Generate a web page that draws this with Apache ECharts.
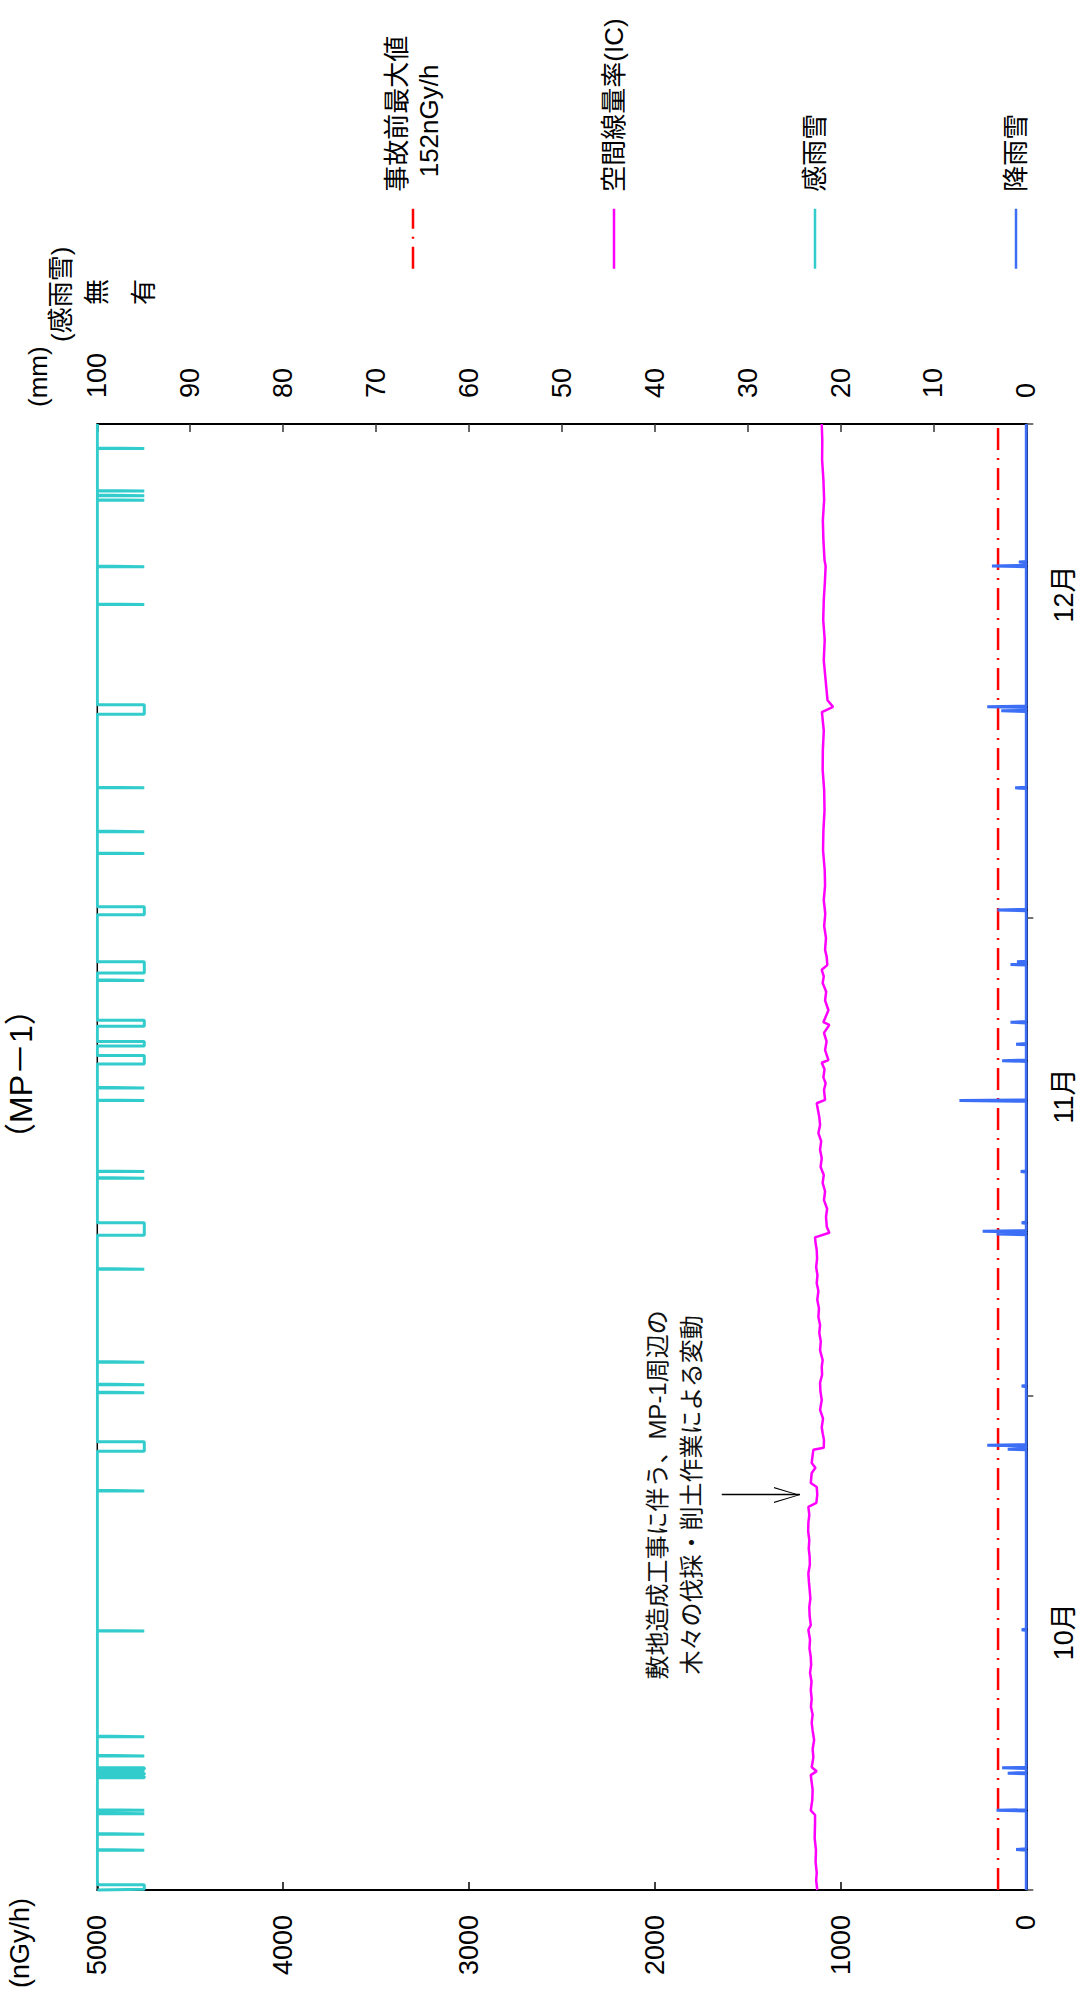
<!DOCTYPE html>
<html>
<head>
<meta charset="utf-8">
<script src="https://cdn.jsdelivr.net/npm/echarts@6/dist/echarts.min.js"></script>
<style>
html,body{margin:0;padding:0;width:1081px;height:2000px;overflow:hidden;background:#fff;}
#wrap{position:absolute;left:0;top:0;width:2000px;height:1081px;transform-origin:0 0;transform:translate(0px,2000px) rotate(-90deg);}
#chart{width:2000px;height:1081px;}
</style>
</head>
<body>
<div id="wrap"><div id="chart"></div></div>
<script>
// ---------- data ----------
const chartTitle = '（MP－1）';
const seriesNames = ['事故前最大値152nGy/h', '空間線量率(IC)', '感雨雪', '降雨雪'];
const legendLabels = ['事故前最大値\n  152nGy/h', '空間線量率(IC)', '感雨雪', '降雨雪'];
const monthStarts = ['10/01 00', '11/01 00', '12/01 00', '01/01 00'];
const monthLabels = ['10月', '11月', '12月'];
const monthLabelAt = ['10/17 05', '11/19 20', '12/21 08'];
const wetLabels = ['無', '有'];
const annotationLines = ['敷地造成工事に伴う、MP-1周辺の', '木々の伐採・削土作業による変動'];
const arrowTime = '10/25 19';
const arrowFrom = 1639;
const arrowTo = 1218;
const preAccidentMax = 152;

// 空間線量率 (nGy/h)
const doseRate = [
  ['10/01 00',1125],['10/01 14',1131],['10/02 02',1128],['10/02 18',1134],['10/03 12',1132],
  ['10/04 06',1139],['10/05 05',1137],['10/05 17',1137],['10/06 00',1160],['10/06 15',1152],
  ['10/07 07',1150],['10/08 05',1160],['10/08 11',1128],['10/08 17',1155],['10/09 08',1146],
  ['10/09 20',1150],['10/10 10',1142],['10/11 00',1150],['10/11 12',1155],['10/12 00',1150],
  ['10/12 12',1159],['10/13 00',1155],['10/13 13',1160],['10/14 02',1156],['10/14 15',1164],
  ['10/15 03',1158],['10/15 15',1160],['10/16 04',1167],['10/16 17',1164],['10/17 08',1173],
  ['10/17 15',1160],['10/18 05',1166],['10/18 18',1168],['10/19 07',1162],['10/19 20',1166],
  ['10/20 08',1170],['10/20 21',1173],['10/21 10',1165],['10/21 22',1166],['10/22 10',1171],
  ['10/22 23',1168],['10/23 12',1174],['10/24 01',1173],['10/24 13',1168],['10/25 01',1173],
  ['10/25 07',1130],['10/25 20',1125],['10/26 07',1128],['10/26 13',1160],['10/27 04',1155],
  ['10/27 12',1135],['10/27 19',1155],['10/28 07',1150],['10/28 15',1146],['10/28 18',1090],
  ['10/29 06',1089],['10/29 16',1096],['10/30 01',1101],['10/30 14',1094],['10/31 03',1110],
  ['10/31 18',1101],['11/01 07',1108],['11/01 20',1110],['11/02 08',1099],['11/02 20',1101],
  ['11/03 06',1096],['11/03 21',1110],['11/04 10',1106],['11/04 23',1114],['11/05 11',1110],
  ['11/05 23',1119],['11/06 12',1116],['11/07 01',1125],['11/07 14',1119],['11/08 02',1128],
  ['11/08 14',1124],['11/09 02',1131],['11/09 15',1126],['11/10 04',1128],['11/10 14',1134],
  ['11/10 23',1137],['11/11 06',1060],['11/11 15',1074],['11/12 06',1078],['11/12 18',1072],
  ['11/13 07',1089],['11/13 20',1083],['11/14 09',1096],['11/14 21',1090],['11/15 09',1107],
  ['11/15 22',1101],['11/16 11',1110],['11/17 00',1104],['11/17 12',1119],['11/18 00',1110],
  ['11/18 12',1114],['11/19 09',1128],['11/19 14',1083],['11/20 05',1089],['11/20 15',1080],
  ['11/21 00',1092],['11/21 12',1086],['11/21 22',1101],['11/22 02',1065],['11/22 17',1083],
  ['11/23 06',1075],['11/23 19',1089],['11/24 07',1060],['11/24 11',1092],['11/25 05',1065],
  ['11/25 20',1083],['11/26 09',1077],['11/26 22',1096],['11/27 08',1090],['11/27 18',1101],
  ['11/28 01',1071],['11/28 13',1074],['11/29 00',1083],['11/29 18',1078],['11/30 12',1088],
  ['12/01 06',1082],['12/02 03',1090],['12/03 01',1083],['12/04 00',1085],['12/05 06',1094],
  ['12/06 12',1092],['12/07 18',1086],['12/09 01',1088],['12/10 07',1096],['12/11 13',1095],
  ['12/12 18',1090],['12/13 22',1100],['12/14 06',1040],['12/14 16',1070],['12/15 22',1080],
  ['12/17 04',1090],['12/18 11',1085],['12/19 17',1093],['12/20 23',1090],['12/22 02',1084],
  ['12/23 02',1080],['12/23 11',1086],['12/24 17',1092],['12/25 23',1095],['12/27 06',1088],
  ['12/28 12',1092],['12/29 18',1099],['12/31 00',1098],['01/01 00',1101]
];

// 降雨雪 (mm/h) – hours with precipitation
const rainEvents = [
  ['10/03 13',1.1],['10/06 00',3.2],['10/08 08',2.0],['10/08 16',2.6],['10/17 08',0.5],
  ['10/28 16',2.0],['10/28 22',4.2],['11/01 15',0.5],['11/11 04',3.2],['11/11 08',4.7],
  ['11/11 21',0.5],['11/15 02',0.6],['11/19 13',7.2],['11/22 01',2.6],['11/23 02',1.1],
  ['11/24 11',1.7],['11/28 02',1.7],['11/28 06',1.0],['12/01 12',3.1],['12/09 04',1.2],
  ['12/14 00',2.7],['12/14 06',4.2],['12/23 02',3.7],['12/23 08',0.8]
];

// 感雨雪 (有) periods: [start, end]
const wetPeriods = [
  ['10/01 01','10/01 08'],['10/03 12','10/03 13'],['10/04 12','10/04 13'],['10/05 19','10/05 20'],
  ['10/06 00','10/06 01'],['10/08 01','10/08 03'],['10/08 06','10/08 08'],['10/08 11','10/08 12'],
  ['10/08 14','10/08 16'],['10/09 10','10/09 11'],['10/10 15','10/10 16'],['10/17 06','10/17 07'],
  ['10/26 01','10/26 02'],['10/28 13','10/29 03'],['11/01 05','11/01 06'],['11/01 17','11/01 18'],
  ['11/03 03','11/03 04'],['11/08 23','11/09 00'],['11/11 02','11/11 21'],['11/14 16','11/14 17'],
  ['11/15 02','11/15 03'],['11/19 13','11/19 14'],['11/20 08','11/20 09'],['11/21 20','11/22 09'],
  ['11/22 23','11/23 06'],['11/24 05','11/24 14'],['11/27 02','11/27 03'],['11/27 13','11/28 06'],
  ['12/01 05','12/01 17'],['12/05 01','12/05 02'],['12/06 10','12/06 11'],['12/09 04','12/09 05'],
  ['12/13 19','12/14 09'],['12/20 16','12/20 17'],['12/23 01','12/23 02'],['12/27 05','12/27 06'],
  ['12/27 12','12/27 13'],['12/27 19','12/27 20'],['12/30 11','12/30 12']
];

// ---------- helpers ----------
const FONT = "'Liberation Sans','Noto Sans CJK JP',sans-serif";
const HOUR = 3600 * 1000;
function T(s) {
  const parts = s.split(' ');
  const md = parts[0].split('/').map(Number);
  return Date.UTC(md[0] >= 10 ? 2013 : 2014, md[0] - 1, md[1], Number(parts[1]));
}
const tMin = T(monthStarts[0]);
const tMax = T(monthStarts[monthStarts.length - 1]);
const labelTimes = monthLabelAt.map(T);

// rain: hourly spikes with zero neighbours
const rainMap = new Map();
rainEvents.forEach(([s, v]) => rainMap.set(T(s), v));
const rainPts = new Map();
rainPts.set(tMin, 0); rainPts.set(tMax, 0);
rainMap.forEach((v, t) => {
  rainPts.set(t, v);
  if (!rainMap.has(t - HOUR)) rainPts.set(t - HOUR, 0);
  if (!rainMap.has(t + HOUR)) rainPts.set(t + HOUR, 0);
});
const rainData = Array.from(rainPts.entries()).sort((a, b) => a[0] - b[0]);

// wet sensor: 0/1 step
const wetData = [[tMin, 0]];
wetPeriods.forEach(([a, b]) => {
  const ta = T(a), tb = T(b);
  wetData.push([ta, 0], [ta, 1], [tb, 1], [tb, 0]);
});
wetData.push([tMax, 0]);

const arrowHead = 'path://M10,0 L20,26 L18.4,26 L10,2.8 L1.6,26 L0,26 Z M10,-26 L10.01,-26 L10,-25.99 Z';
const plain = v => String(v);

// legend vertical centres (item rows)
const legendRows = [413, 614, 815, 1016];

const chart = echarts.init(document.getElementById('chart'), null, { renderer: 'svg' });
chart.setOption({
  animation: false,
  backgroundColor: '#fff',
  title: {
    text: chartTitle, left: 845, top: 5, padding: 0,
    textStyle: { fontSize: 32, fontWeight: 'normal', color: '#000', fontFamily: FONT }
  },
  legend: seriesNames.map((n, i) => ({
    data: [n], left: 1730, top: i === 0 ? legendRows[i] - 48 : legendRows[i] - 16,
    orient: 'vertical', padding: 0, itemWidth: 60, itemHeight: 20, selectedMode: false,
    formatter: () => legendLabels[i],
    itemStyle: { opacity: 0 },
    lineStyle: { width: 2.5 },
    textStyle: {
      fontSize: 26, lineHeight: 32, color: '#000', fontFamily: FONT,
      padding: i === 0 ? [32, 0, 0, 12] : [0, 0, 0, 12]
    }
  })),
  grid: {
    left: 110, right: 424, top: 97.3, bottom: 54.7,
    show: true, borderColor: '#000', borderWidth: 1.5, backgroundColor: 'transparent'
  },
  xAxis: {
    type: 'value', min: tMin, max: tMax,
    axisLine: { show: true, onZero: false, lineStyle: { color: '#000', width: 2 } },
    axisTick: { show: true, inside: false, length: 7, customValues: monthStarts.map(T), lineStyle: { color: '#444', width: 1.5 } },
    axisLabel: {
      show: true, customValues: labelTimes, margin: 24, fontSize: 27, color: '#000', fontFamily: FONT,
      hideOverlap: false,
      formatter: function (v) {
        const i = labelTimes.findIndex(t => Math.abs(t - v) < 60000);
        return i >= 0 ? monthLabels[i] : '';
      }
    },
    splitLine: { show: false }
  },
  yAxis: [
    {
      type: 'value', position: 'left', min: 0, max: 5000, interval: 1000,
      name: '(nGy/h)', nameLocation: 'end', nameGap: 77,
      nameTextStyle: { fontSize: 27, color: '#000', align: 'right', verticalAlign: 'middle', padding: [0, 8, 0, 0], fontFamily: FONT },
      axisLine: { show: true, lineStyle: { color: '#000', width: 2 } },
      axisTick: { show: true, inside: true, length: 8, lineStyle: { color: '#000', width: 1.5 } },
      axisLabel: { fontSize: 27, color: '#000', margin: 25, fontFamily: FONT, formatter: plain },
      splitLine: { show: false }
    },
    {
      type: 'value', position: 'right', min: 0, max: 100, interval: 10,
      name: '(mm)', nameLocation: 'end', nameGap: 59,
      nameTextStyle: { fontSize: 26, color: '#000', align: 'left', verticalAlign: 'middle', padding: [0, 0, 0, 17], fontFamily: FONT },
      axisLine: { show: true, lineStyle: { color: '#000', width: 2 } },
      axisTick: { show: true, inside: true, length: 8, lineStyle: { color: '#333', width: 1.5 } },
      axisLabel: { fontSize: 27, color: '#000', margin: 26, fontFamily: FONT, formatter: plain },
      splitLine: { show: false }
    },
    {
      type: 'value', position: 'right', inverse: true, min: 0, max: 19.77, interval: 1,
      name: '(感雨雪)', nameLocation: 'start', nameGap: 36,
      nameTextStyle: { fontSize: 26, color: '#000', align: 'left', verticalAlign: 'middle', padding: [0, 0, 0, 82], fontFamily: FONT },
      axisLine: { show: false }, axisTick: { show: false }, splitLine: { show: false },
      axisLabel: {
        margin: 119, fontSize: 26, color: '#000', fontFamily: FONT, showMaxLabel: false,
        formatter: v => (v === 0 ? wetLabels[0] : v === 1 ? wetLabels[1] : '')
      }
    }
  ],
  series: [
    {
      name: seriesNames[0], type: 'line', yAxisIndex: 0, symbol: 'none', silent: true, z: 3,
      data: [[tMin, preAccidentMax], [tMax, preAccidentMax]],
      lineStyle: { color: '#ff0000', width: 2.5, type: [22, 8, 2, 8] }, itemStyle: { color: '#ff0000' }
    },
    {
      name: seriesNames[1], type: 'line', yAxisIndex: 0, symbol: 'none', silent: true, z: 2,
      data: doseRate.map(([s, v]) => [T(s), v]),
      lineStyle: { color: '#ff00ff', width: 2.5 }, itemStyle: { color: '#ff00ff' },
      markLine: {
        silent: true, symbol: ['none', arrowHead], symbolSize: [16, 52],
        lineStyle: { color: '#000', width: 1.3, type: 'solid' },
        emphasis: { disabled: true },
        label: {
          show: true, position: 'start', distance: 13, formatter: annotationLines.join('\n'),
          fontSize: 24, lineHeight: 34.5, color: '#111', fontFamily: FONT
        },
        data: [[{ coord: [T(arrowTime), arrowFrom] }, { coord: [T(arrowTime), arrowTo] }]]
      }
    },
    {
      name: seriesNames[2], type: 'line', yAxisIndex: 2, symbol: 'none', silent: true, z: 1,
      data: wetData,
      lineStyle: { color: '#33cccc', width: 3 }, itemStyle: { color: '#33cccc' }
    },
    {
      name: seriesNames[3], type: 'line', yAxisIndex: 1, symbol: 'none', silent: true, z: 4,
      data: rainData,
      lineStyle: { color: '#3d6ff6', width: 3 }, itemStyle: { color: '#3d6ff6' }
    }
  ]
});
</script>
</body>
</html>
